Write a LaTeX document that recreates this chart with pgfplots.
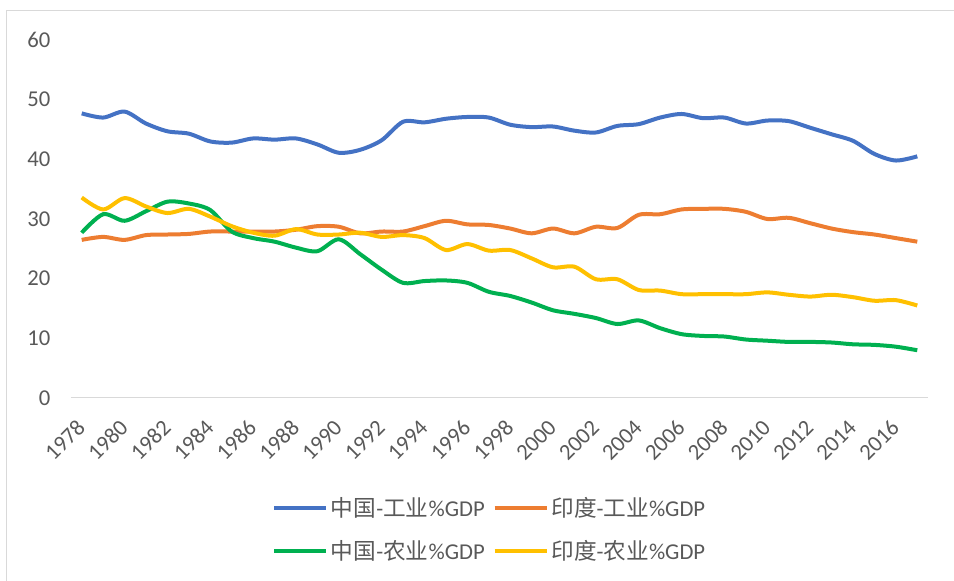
\documentclass[border=0pt]{standalone}
\usepackage{fontspec}
\setmainfont{Carlito}
\newfontfamily\cjk{Noto Sans CJK SC}
\usepackage{pgfplots}
\pgfplotsset{compat=1.18}
\definecolor{cnind}{HTML}{4472C4}
\definecolor{inind}{HTML}{ED7D31}
\definecolor{cnagr}{HTML}{00B050}
\definecolor{inagr}{HTML}{FFC000}
\definecolor{txtgray}{HTML}{595959}
\definecolor{linegray}{HTML}{D9D9D9}

\begin{document}
\begin{tikzpicture}[x=1pt,y=1pt]
\path[use as bounding box] (-53.25,-137.25) rectangle (662.25,298.5);
\draw[linegray, line width=0.75pt] (-48,-137.25) -- (-48,290.25) -- (662.25,290.25);
\begin{axis}[
  at={(0,0)}, anchor=south west,
  scale only axis, width=642.75pt, height=268.5pt,
  xmin=1977.5, xmax=2017.5, ymin=0, ymax=60,
  axis x line*=bottom, axis y line*=left,
  x axis line style={draw=linegray, line width=0.75pt, -},
  y axis line style={draw=none},
  major tick length=0pt,
  xtick={1978,1980,...,2016}, ytick={0,10,...,60},
  font=\fontsize{17}{20}\selectfont, color=txtgray,
  x tick label style={xshift=2pt, yshift=-17pt, rotate=45, anchor=east},
  y tick label style={anchor=east, xshift=-12pt},
  /pgf/number format/.cd, 1000 sep={}, assume math mode=true, /pgfplots/.cd,
  every axis plot/.append style={line width=3pt, smooth},
  legend columns=2,
  legend style={at={(0.489,-0.2626)}, anchor=north, draw=none, fill=none,
    font=\fontsize{17}{20}\selectfont, text=txtgray,
    /tikz/every even column/.append style={column sep=4pt},
    row sep=12pt},
  legend image code/.code={\draw[#1] (-2pt,0pt) -- (37pt,0pt);},
]
\addplot[cnind] coordinates {
(1978,47.7) (1979,47.0) (1980,48.0) (1981,46.0) (1982,44.7) (1983,44.3)
(1984,43.0) (1985,42.8) (1986,43.5) (1987,43.3) (1988,43.5) (1989,42.5)
(1990,41.1) (1991,41.6) (1992,43.2) (1993,46.3) (1994,46.2) (1995,46.8)
(1996,47.1) (1997,47.0) (1998,45.8) (1999,45.4) (2000,45.5) (2001,44.8)
(2002,44.5) (2003,45.6) (2004,45.9) (2005,47.0) (2006,47.6) (2007,46.9)
(2008,47.0) (2009,46.0) (2010,46.5) (2011,46.4) (2012,45.3) (2013,44.2)
(2014,43.1) (2015,40.9) (2016,39.8) (2017,40.5)};
\addlegendentry{{\cjk 中国}-{\cjk 工业}\%GDP}
\addplot[inind] coordinates {
(1978,26.5) (1979,27.0) (1980,26.5) (1981,27.3) (1982,27.4) (1983,27.5)
(1984,27.9) (1985,27.9) (1986,27.9) (1987,27.9) (1988,28.2) (1989,28.8)
(1990,28.7) (1991,27.6) (1992,27.9) (1993,27.9) (1994,28.8) (1995,29.7)
(1996,29.1) (1997,29.0) (1998,28.4) (1999,27.6) (2000,28.4) (2001,27.6)
(2002,28.7) (2003,28.5) (2004,30.7) (2005,30.8) (2006,31.6) (2007,31.7)
(2008,31.7) (2009,31.2) (2010,30.0) (2011,30.2) (2012,29.3) (2013,28.4)
(2014,27.8) (2015,27.4) (2016,26.8) (2017,26.2)};
\addlegendentry{{\cjk 印度}-{\cjk 工业}\%GDP}
\addplot[cnagr] coordinates {
(1978,27.7) (1979,30.8) (1980,29.7) (1981,31.3) (1982,32.9) (1983,32.6)
(1984,31.5) (1985,27.9) (1986,26.8) (1987,26.2) (1988,25.2) (1989,24.6)
(1990,26.6) (1991,24.1) (1992,21.5) (1993,19.3) (1994,19.6) (1995,19.7)
(1996,19.3) (1997,17.8) (1998,17.1) (1999,16.0) (2000,14.7) (2001,14.1)
(2002,13.4) (2003,12.4) (2004,13.0) (2005,11.7) (2006,10.7) (2007,10.4)
(2008,10.3) (2009,9.8) (2010,9.6) (2011,9.4) (2012,9.4) (2013,9.3)
(2014,9.0) (2015,8.9) (2016,8.6) (2017,8.0)};
\addlegendentry{{\cjk 中国}-{\cjk 农业}\%GDP}
\addplot[inagr] coordinates {
(1978,33.6) (1979,31.6) (1980,33.5) (1981,32.1) (1982,31.0) (1983,31.7)
(1984,30.4) (1985,28.8) (1986,27.7) (1987,27.2) (1988,28.3) (1989,27.4)
(1990,27.4) (1991,27.7) (1992,27.0) (1993,27.3) (1994,26.8) (1995,24.8)
(1996,25.8) (1997,24.7) (1998,24.8) (1999,23.4) (2000,21.9) (2001,22.0)
(2002,19.9) (2003,19.9) (2004,18.1) (2005,18.0) (2006,17.4) (2007,17.4)
(2008,17.4) (2009,17.4) (2010,17.7) (2011,17.3) (2012,17.0) (2013,17.3)
(2014,16.9) (2015,16.3) (2016,16.4) (2017,15.5)};
\addlegendentry{{\cjk 印度}-{\cjk 农业}\%GDP}
\end{axis}
\end{tikzpicture}
\end{document}
